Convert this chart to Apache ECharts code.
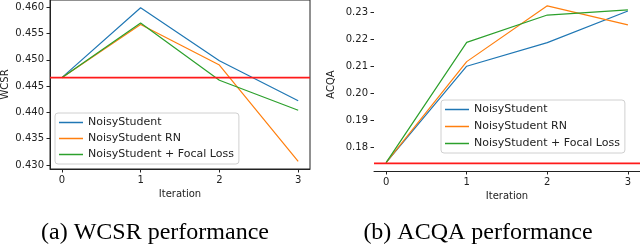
<!DOCTYPE html>
<html>
<head>
<meta charset="utf-8">
<script src="https://cdn.jsdelivr.net/npm/echarts@6/dist/echarts.min.js"></script>
<style>html,body{margin:0;padding:0;background:#fff}#c{width:640px;height:251px}</style>
</head>
<body>
<div id="c"></div>
<script>
const iterations = [0, 1, 2, 3];
const seriesNames = ['NoisyStudent', 'NoisyStudent RN', 'NoisyStudent + Focal Loss'];

const wcsrNoisy = [0.4466, 0.4599, 0.4498, 0.4422];
const wcsrRN = [0.4466, 0.4567, 0.4490, 0.4307];
const wcsrFocal = [0.4466, 0.4570, 0.4461, 0.4404];
const wcsrBaseline = 0.4466;
const wcsrTicks = [0.430, 0.435, 0.440, 0.445, 0.450, 0.455, 0.460];

const acqaNoisy = [0.1744, 0.2100, 0.2187, 0.2304];
const acqaRN = [0.1744, 0.2117, 0.2323, 0.2253];
const acqaFocal = [0.1744, 0.2188, 0.2289, 0.2308];
const acqaBaseline = 0.1741;
const acqaTicks = [0.18, 0.19, 0.20, 0.21, 0.22, 0.23];

const captions = ['(a) WCSR performance', '(b) ACQA performance'];

const colors = ['#1f77b4', '#ff7f0e', '#2ca02c'];
const FONT = 'DejaVu Sans';
const X_MIN = -0.15, X_MAX = 3.15;

function pairs(vals) { return iterations.map((x, i) => [x, vals[i]]); }

function mkX(gridIndex) {
  return {
    type: 'value', gridIndex: gridIndex, min: X_MIN, max: X_MAX,
    name: 'Iteration', nameLocation: 'middle', nameGap: 20,
    nameTextStyle: { fontFamily: FONT, fontSize: 10, color: '#222' },
    splitLine: { show: false },
    axisLine: { show: true, onZero: false, lineStyle: { color: '#222', width: 1 } },
    axisTick: { show: true, length: 3.5, lineStyle: { color: '#222' }, customValues: iterations },
    axisLabel: { fontFamily: FONT, fontSize: 10, color: '#222', margin: 6, customValues: iterations, formatter: v => String(v) }
  };
}
function mkY(gridIndex, name, min, max, ticks, dec, showLine, gap) {
  return {
    type: 'value', gridIndex: gridIndex, min: min, max: max,
    name: name, nameLocation: 'middle', nameGap: gap, nameRotate: 90,
    nameTextStyle: { fontFamily: FONT, fontSize: 10, color: '#222' },
    splitLine: { show: false },
    axisLine: { show: showLine, onZero: false, lineStyle: { color: '#222', width: 1 } },
    axisTick: { show: true, length: 3.5, lineStyle: { color: '#222' }, customValues: ticks },
    axisLabel: { fontFamily: FONT, fontSize: 10, color: '#222', margin: 6, customValues: ticks, formatter: v => v.toFixed(dec) }
  };
}
function mkSeries(idx, vals, name, color, width, z) {
  return {
    type: 'line', name: name, xAxisIndex: idx, yAxisIndex: idx,
    data: pairs(vals), symbol: 'none', z: z,
    lineStyle: { color: color, width: width }, itemStyle: { color: color },
    emphasis: { disabled: true }, animation: false
  };
}
function baseline(idx, v) {
  return {
    type: 'line', name: 'baseline', xAxisIndex: idx, yAxisIndex: idx, z: 10,
    data: [[X_MIN, v], [X_MAX, v]], symbol: 'none',
    lineStyle: { color: '#ff1a1a', width: 1.6 }, itemStyle: { color: '#ff1a1a' },
    emphasis: { disabled: true }, animation: false
  };
}
function mkLegend(left, top, gap) {
  return {
    left: left, top: top, orient: 'vertical',
    data: seriesNames, icon: 'rect', itemWidth: 24, itemHeight: 1.5, itemGap: gap,
    padding: [3, 5, 3, 4],
    backgroundColor: 'rgba(255,255,255,0.8)', borderColor: '#d0d0d0', borderWidth: 1, borderRadius: 3,
    textStyle: { fontFamily: FONT, fontSize: 11, color: '#222', lineHeight: 13 },
    selectedMode: false
  };
}

const chart = echarts.init(document.getElementById('c'), null, { renderer: 'canvas' });
chart.setOption({
  animation: false,
  backgroundColor: '#fff',
  grid: [
    { left: 50, top: 0, width: 260, height: 169, show: true, borderColor: '#222', borderWidth: 1, backgroundColor: 'transparent', containLabel: false, outerBoundsMode: 'none' },
    { left: 374, top: -2, width: 266, height: 173, show: false, containLabel: false, outerBoundsMode: 'none' }
  ],
  xAxis: [mkX(0), mkX(1)],
  yAxis: [
    mkY(0, 'WCSR', 0.42924, 0.46136, wcsrTicks, 3, true, 40),
    mkY(1, 'ACQA', 0.1713, 0.2352, acqaTicks, 2, false, 38)
  ],
  legend: [mkLegend(55, 113, 3), mkLegend(441, 100, 4)],
  series: [
    mkSeries(0, wcsrNoisy, seriesNames[0], colors[0], 1.2, 3),
    mkSeries(0, wcsrRN, seriesNames[1], colors[1], 1.2, 4),
    mkSeries(0, wcsrFocal, seriesNames[2], colors[2], 1.2, 5),
    baseline(0, wcsrBaseline),
    mkSeries(1, acqaNoisy, seriesNames[0], colors[0], 1.2, 3),
    mkSeries(1, acqaRN, seriesNames[1], colors[1], 1.2, 4),
    mkSeries(1, acqaFocal, seriesNames[2], colors[2], 1.2, 5),
    baseline(1, acqaBaseline)
  ],
  graphic: [
    { type: 'text', x: 155, y: 233, style: { text: captions[0], font: '24px "Liberation Serif"', fill: '#000', textAlign: 'center', textVerticalAlign: 'middle' } },
    { type: 'text', x: 478, y: 233, style: { text: captions[1], font: '24px "Liberation Serif"', fill: '#000', textAlign: 'center', textVerticalAlign: 'middle' } }
  ]
});
</script>
</body>
</html>
